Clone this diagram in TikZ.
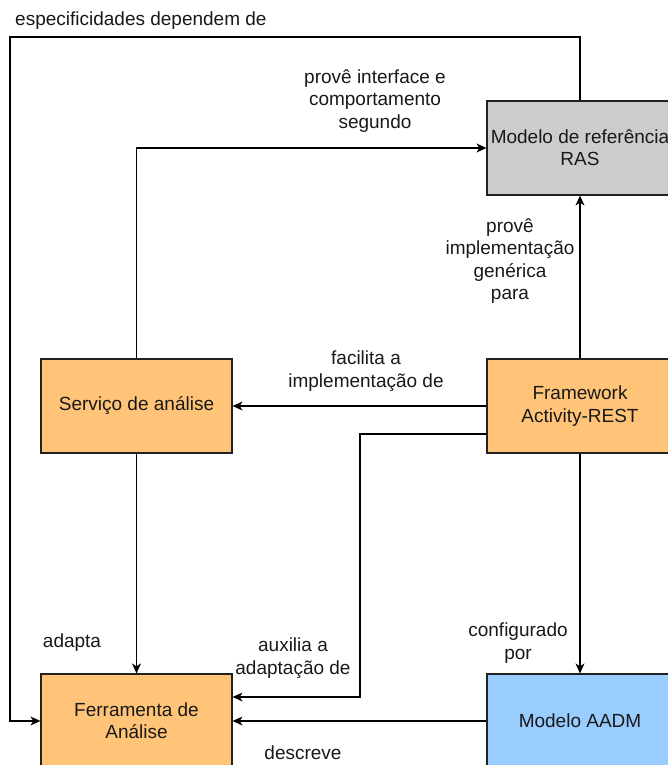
\documentclass[tikz,border=0pt]{standalone}
\usepackage{fontspec}
\setmainfont{Liberation Sans}
\usetikzlibrary{arrows.meta}
\definecolor{boxorange}{HTML}{FFC478}
\definecolor{boxgray}{HTML}{CCCCCC}
\definecolor{boxblue}{HTML}{99CCFF}
\definecolor{boxline}{HTML}{222222}
\begin{document}
\begin{tikzpicture}[x=1pt,y=-1pt,
  font=\fontsize{19}{22.3}\selectfont,
  box/.style={draw=boxline,line width=1.2pt,minimum width=186pt,minimum height=94pt,
    inner sep=0pt,align=center,text=black!90},
  lbl/.style={align=center,inner sep=0pt,text=black!90},
  arr/.style={draw=black,line width=1.2pt,-{Stealth[length=10pt,width=9pt,inset=3pt]}},
  ]
\clip (0,0) rectangle (668,765);
\fill[white] (0,0) rectangle (668,765);

% blocks
\node[box,fill=boxgray]   (ras)   at (580,148) {Modelo de referência\\RAS};
\node[box,fill=boxorange,minimum width=191pt] (serv)  at (136.5,406) {Serviço de análise};
\node[box,fill=boxorange] (frame) at (580,406) {Framework\\Activity-REST};
\node[box,fill=boxorange,minimum width=191pt] (ferr)  at (136.5,721) {Ferramenta de\\Análise};
\node[box,fill=boxblue]   (aadm)  at (580,721) {Modelo AADM};

% routing points
\coordinate (topR) at (580,37);
\coordinate (topL) at (10,37);
\coordinate (auxA) at (487,434);
\coordinate (auxB) at (360,697);

% connectors
\draw[arr] (ras.north) -- (topR) -- (topL) |- (ferr.west);
\draw[arr] (serv.north) |- (ras.west);
\draw[arr] (frame.north) -- (ras.south);
\draw[arr] (frame.west) -- (serv.east);
\draw[arr] (auxA) -| (auxB) -- (auxB -| ferr.east);
\draw[arr] (frame.south) -- (aadm.north);
\draw[arr] (serv.south) -- (ferr.north);
\draw[arr] (aadm.west) -- (ferr.east);

% labels
\node[lbl,anchor=west] (l1) at (15,21) {especificidades dependem de};
\node[lbl] (l2) at (375,101) {provê interface e\\comportamento\\segundo};
\node[lbl] (l3) at (510,261) {provê\\implementação\\genérica\\para};
\node[lbl] (l4) at (366,371) {facilita a\\implementação de};
\node[lbl] (l5) at (72,643) {adapta};
\node[lbl] (l6) at (293,658) {auxilia a\\adaptação de};
\node[lbl] (l7) at (518,643) {configurado\\por};
\node[lbl] (l8) at (303,753) {descreve};
\end{tikzpicture}
\end{document}
